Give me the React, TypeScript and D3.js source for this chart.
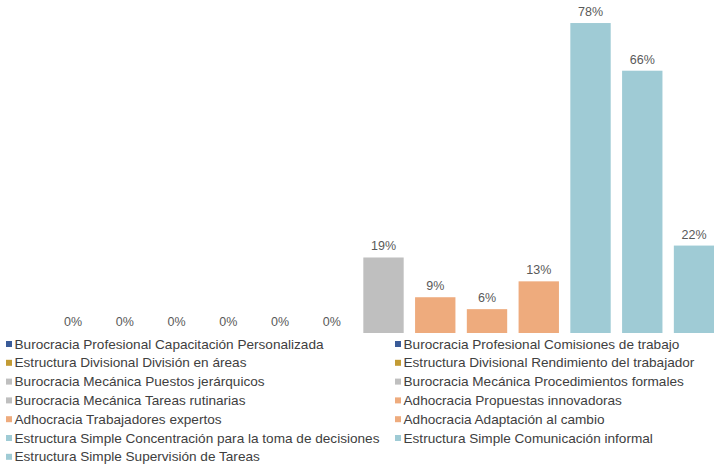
import React from "react";
import * as d3 from "d3";

const categories = [
  "Burocracia Profesional Capacitación Personalizada",
  "Burocracia Profesional Comisiones de trabajo",
  "Estructura Divisional División en áreas",
  "Estructura Divisional Rendimiento del trabajador",
  "Burocracia Mecánica Puestos jerárquicos",
  "Burocracia Mecánica Procedimientos formales",
  "Burocracia Mecánica Tareas rutinarias",
  "Adhocracia Propuestas innovadoras",
  "Adhocracia Trabajadores expertos",
  "Adhocracia Adaptación al cambio",
  "Estructura Simple Concentración para la toma de decisiones",
  "Estructura Simple Comunicación informal",
  "Estructura Simple Supervisión de Tareas",
];

const values = [0, 0, 0, 0, 0, 0, 0.19, 0.09, 0.06, 0.13, 0.78, 0.66, 0.22];

const groupColors = [
  "#3a5b98", "#3a5b98",
  "#c29b34", "#c29b34",
  "#bfbfbf", "#bfbfbf", "#bfbfbf",
  "#eeab7d", "#eeab7d", "#eeab7d",
  "#9fcbd5", "#9fcbd5", "#9fcbd5",
];

const W = 714;
const H = 465;

export default function App() {
  const x = d3
    .scaleBand<string>()
    .domain(categories)
    .range([47.1, 719.9])
    .paddingInner(0.22)
    .paddingOuter(0.11);
  const y = d3.scaleLinear().domain([0, 0.8]).range([333, 333 - 0.8 * 397.4]);
  const fmt = d3.format(".0%");

  const rowY = (i: number) => 344 + i * 18.8;

  return (
    <svg
      width={W}
      height={H}
      style={{ position: "absolute", left: 0, top: 0, background: "#fff" }}
      fontFamily="'Liberation Sans', Arial, sans-serif"
    >
      <rect width={W} height={H} fill="#fff" />
      {categories.map((c, i) => (
        <g key={c}>
          <rect
            x={x(c)}
            y={y(values[i])}
            width={x.bandwidth()}
            height={y(0) - y(values[i])}
            fill={groupColors[i]}
          />
          <text
            x={(x(c) as number) + x.bandwidth() / 2}
            y={y(values[i]) - 7}
            textAnchor="middle"
            fontSize={12.5}
            fill="#595959"
          >
            {fmt(values[i])}
          </text>
        </g>
      ))}
      {categories.map((c, i) => {
        const col = i % 2;
        const row = Math.floor(i / 2);
        const mx = col === 0 ? 6 : 395;
        const cy = rowY(row);
        return (
          <g key={"lg" + c}>
            <rect x={mx} y={cy - 3} width={6} height={6} fill={groupColors[i]} />
            <text x={mx + 8.5} y={cy} dominantBaseline="central" fontSize={13.6} fill="#404040">
              {c}
            </text>
          </g>
        );
      })}
    </svg>
  );
}
